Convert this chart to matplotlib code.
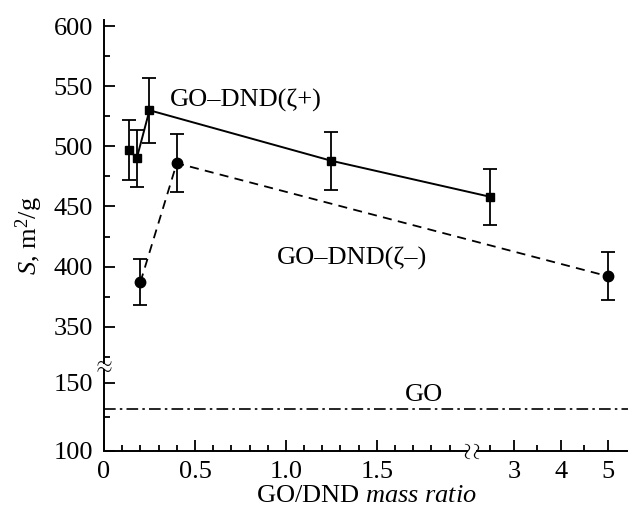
import numpy as np
import matplotlib
matplotlib.use("Agg")
import matplotlib.pyplot as plt
from matplotlib.markers import MarkerStyle
from matplotlib.transforms import Affine2D
from matplotlib.ticker import FixedLocator, FixedFormatter, NullFormatter

plt.rcParams['font.family'] = ['Liberation Serif', 'DejaVu Serif']
plt.rcParams['mathtext.fontset'] = 'custom'
plt.rcParams['mathtext.rm'] = 'Liberation Serif'
plt.rcParams['mathtext.it'] = 'Liberation Serif:italic'

# GO-DND(zeta+) series
pos_ratio = [0.14, 0.18, 0.25, 1.25, 2.5]
pos_area = [497, 490, 530, 488, 458]
pos_err = [25, 24, 27, 24, 23]

# GO-DND(zeta-) series
neg_ratio = [0.20, 0.40, 5.0]
neg_area = [387, 486, 392]
neg_err = [19, 24, 20]

# pure GO level
go_area = 131

x_major = [0, 0.5, 1.0, 1.5, 3, 4, 5]
x_major_labels = ['0', '0.5', '1.0', '1.5', '3', '4', '5']
x_minor = [0.1, 0.2, 0.3, 0.4, 0.6, 0.7, 0.8, 0.9, 1.1, 1.2, 1.3, 1.4,
           1.6, 1.7, 1.8, 1.9, 2.5, 3.5, 4.5]
y_major = [100, 150, 350, 400, 450, 500, 550, 600]
y_minor = [125, 325, 375, 425, 475, 525, 575]

# axis breaks (data values where each piece ends)
x_break = (1.995, 2.19)
y_break = (160, 320)

# broken axes as piecewise linear scales
x_knots = [-1.0, x_break[0], x_break[1], 7.0]
x_disp = [-182.0, 363.1, 372.1, 598.0]
y_knots = [0.0, y_break[0], y_break[1], 700.0]
y_disp = [-136.0, 81.6, 88.0, 544.0]


def fwd_x(v):
    return np.interp(v, x_knots, x_disp)


def inv_x(v):
    return np.interp(v, x_disp, x_knots)


def fwd_y(v):
    return np.interp(v, y_knots, y_disp)


def inv_y(v):
    return np.interp(v, y_disp, y_knots)


fs = 19
xmax, ymax = 5.43, 605

fig = plt.figure(figsize=(6.28, 5.15), dpi=100)
ax = fig.add_axes([0.1656, 0.1243, 0.8344, 0.8367])
ax.set_xscale('function', functions=(fwd_x, inv_x))
ax.set_yscale('function', functions=(fwd_y, inv_y))
ax.set_xlim(0, xmax)
ax.set_ylim(100, ymax)

ax.errorbar(pos_ratio, pos_area, yerr=pos_err, fmt='s-', color='black',
            ms=6.3, lw=1.4, elinewidth=1.3, capsize=5, capthick=1.3)
ax.errorbar(neg_ratio, neg_area, yerr=neg_err, fmt='o', color='black',
            ms=7.5, elinewidth=1.3, capsize=5, capthick=1.3)
ax.plot(neg_ratio, neg_area, color='black', lw=1.3, dashes=(5, 3.5))
ax.axhline(go_area, color='black', lw=1.2, dashes=(7, 2.5, 1.5, 2.5))

ax.text(0.36, 538, 'GO–DND(ζ+)', fontsize=fs, va='center', ha='left')
ax.text(0.95, 407, 'GO–DND(ζ–)', fontsize=fs, va='center', ha='left')
ax.text(1.76, 141, 'GO', fontsize=fs, va='center', ha='center')

# spines split at the breaks
for side in ['top', 'right']:
    ax.spines[side].set_visible(False)
ax.spines['left'].set_linewidth(1.4)
ax.spines['bottom'].set_linewidth(1.4)
ax.spines['left'].set_bounds(y_break[1], ymax)
ax.spines['bottom'].set_bounds(0, x_break[0])
ax.plot([0, 0], [100, y_break[0]], transform=ax.get_yaxis_transform(),
        color='black', lw=1.4, clip_on=False, solid_capstyle='butt')
ax.plot([x_break[1], xmax], [0, 0], transform=ax.get_xaxis_transform(),
        color='black', lw=1.4, clip_on=False, solid_capstyle='butt')

# break marks
tilde = MarkerStyle('$\\sim$')
s_mark = MarkerStyle('$\\sim$', transform=Affine2D().rotate_deg(90))
ax.plot([0, 0], list(y_break), transform=ax.get_yaxis_transform(),
        ls='none', marker=tilde, ms=10, mew=0, color='black', clip_on=False)
ax.plot(list(x_break), [0, 0], transform=ax.get_xaxis_transform(),
        ls='none', marker=s_mark, ms=11, mew=0, color='black', clip_on=False)

ax.xaxis.set_major_locator(FixedLocator(x_major))
ax.xaxis.set_major_formatter(FixedFormatter(x_major_labels))
ax.xaxis.set_minor_locator(FixedLocator(x_minor))
ax.xaxis.set_minor_formatter(NullFormatter())
ax.yaxis.set_major_locator(FixedLocator(y_major))
ax.yaxis.set_minor_locator(FixedLocator(y_minor))
ax.yaxis.set_minor_formatter(NullFormatter())

ax.tick_params(which='both', direction='in', width=1.3, labelsize=fs)
ax.tick_params(which='major', length=8)
ax.tick_params(which='minor', length=4.5)
ax.tick_params(axis='x', which='major', pad=7)
ax.tick_params(axis='y', which='major', pad=8)

ax.set_xlabel('GO/DND $\\mathit{mass\\ ratio}$', fontsize=fs, labelpad=2)
ax.set_ylabel('$\\mathit{S}$, m$^2$/g', fontsize=fs, labelpad=6)

fig.savefig('out.png', dpi=100)
